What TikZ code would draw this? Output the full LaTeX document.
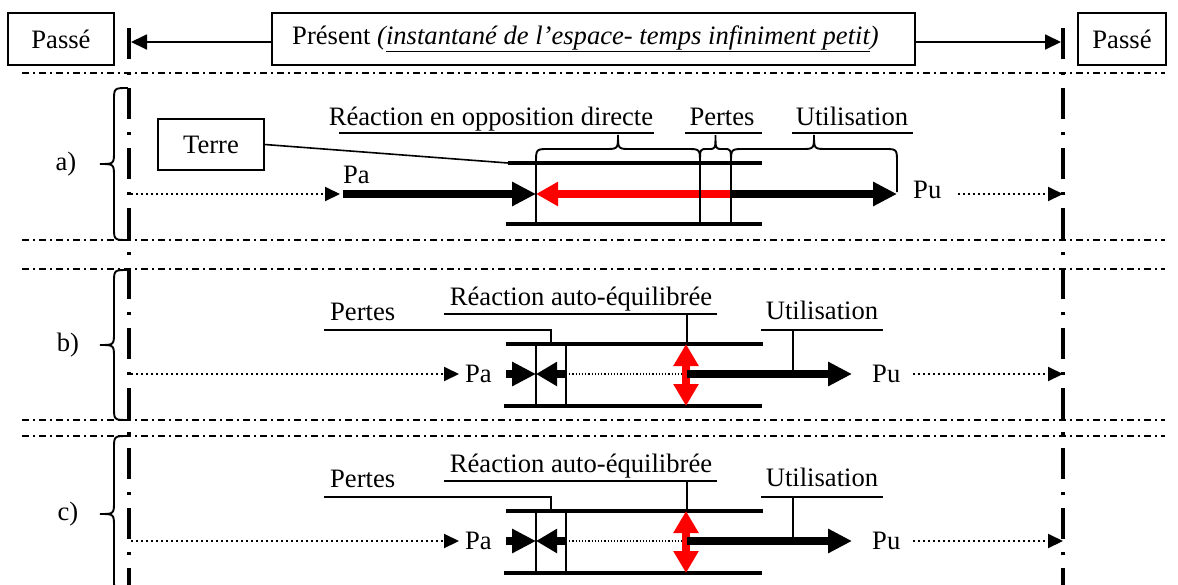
\documentclass[tikz,border=0pt]{standalone}
\usepackage{fontspec}
\setmainfont{Liberation Serif}
\usetikzlibrary{arrows.meta}
\begin{document}
\begin{tikzpicture}[x=1pt,y=-1pt,
  txt/.style={font=\fontsize{26.6}{32}\selectfont, inner sep=0pt},
  boxed/.style={draw, line width=1.6pt, inner sep=0pt, font=\fontsize{26.6}{32}\selectfont},
  hsep/.style={line width=1.6pt, dash pattern=on 7pt off 4pt on 2pt off 4pt},
  vsep/.style={line width=4pt, dash pattern=on 31pt off 13pt on 3pt off 13pt},
  rail/.style={line width=4pt},
  thinline/.style={line width=1.6pt},
  bracepath/.style={line width=1.9pt},
  toparrow/.style={line width=1.8pt, -{Triangle[length=16pt,width=15pt]}},
  dotarrow/.style={line width=2pt, dash pattern=on 2pt off 3pt, -{Triangle[length=15pt,width=14pt]}},
  fat/.style={line width=8pt, -{Triangle[length=24pt,width=23pt]}},
  fineDots/.style={line width=1.2pt, dash pattern=on 1.2pt off 2pt}]
\clip (0,0) rectangle (1178,584);
\fill[white] (0,0) rectangle (1178,584);

% ---------- top row ----------
\node[boxed, minimum width=106pt, minimum height=52pt] (passeL) at (61,39) {Passé};
\node[boxed, minimum width=643pt, minimum height=52pt] (present) at (593.5,39)
  {Présent \textit{(\underline{instantané de l’espace- temps infiniment petit})}\hspace*{16pt}};
\node[boxed, minimum width=88pt, minimum height=52pt] (passeR) at (1122,39) {Passé};

\draw[vsep] (129,28) -- (129,600);
\draw[vsep] (1063,28) -- (1063,600);

\coordinate (lb) at (131,42);
\coordinate (rb) at (1061,42);
\draw[toparrow] (present.west |- lb) -- (lb);
\draw[toparrow] (present.east |- rb) -- (rb);

% separators
\draw[hsep] (22,73) -- (1165,73);
\draw[hsep] (22,240) -- (1165,240);
\draw[hsep] (22,269) -- (1165,269);
\draw[hsep] (22,420) -- (1165,420);
\draw[hsep] (22,436) -- (1165,436);

% ---------- section a ----------
\draw[bracepath] (128,88) .. controls (114,88) .. (114,101) -- (114,151) .. controls (114,164) .. (100,164)
  .. controls (114,164) .. (114,177) -- (114,227) .. controls (114,240) .. (128,240);
\node[txt] (labA) at (66,164) {a)};

\node[boxed, minimum width=106pt, minimum height=51pt] (terre) at (211,144.5) {Terre};
\coordinate (railAtl) at (508,163);
\draw[rail] (railAtl) -- (762,163);
\draw[rail] (506,224) -- (762,224);
\draw[thinline] (terre.east) -- (railAtl);

\draw[dotarrow] (131,194) -- (340,194);
\node[txt, anchor=base west] (paA) at (343,183) {Pa};
\draw[fat] (343,194) -- (536,194);
\draw[fat, red, -{Triangle[length=22pt,width=23pt]}] (731,194) -- (536,194);
\draw[fat] (731,194) -- (897,194);
\node[txt, anchor=base west] (puA) at (913,198) {Pu};
\draw[dotarrow] (958,194) -- (1063,194);

\draw[thinline] (536,157) -- (536,224);
\draw[thinline] (700,163) -- (700,224);
\draw[thinline] (731,163) -- (731,224);

% braces above
\draw[bracepath] (536,163) .. controls (536,149) .. (549,149) -- (605,149) .. controls (618,149) .. (618,135)
  .. controls (618,149) .. (631,149) -- (687,149) .. controls (700,149) .. (700,163);
\draw[bracepath] (700,163) .. controls (700,149) .. (707,149) -- (708.5,149) .. controls (715.5,149) .. (715.5,135)
  .. controls (715.5,149) .. (722.5,149) -- (724,149) .. controls (731,149) .. (731,163);
\draw[bracepath] (731,163) .. controls (731,149) .. (744,149) -- (801,149) .. controls (814,149) .. (814,135)
  .. controls (814,149) .. (827,149) -- (884,149) .. controls (897,149) .. (897,163) -- (897,192);

\node[txt, anchor=base] (reacA) at (491,125) {Réaction en opposition directe};
\node[txt, anchor=base] (pertesA) at (722,125) {Pertes};
\node[txt, anchor=base] (utilA) at (852,125) {Utilisation};
\draw[thinline] (339,133) -- (654,133);
\draw[thinline] (685,133) -- (762,133);
\draw[thinline] (792,133) -- (913,133);

% ---------- sections b and c ----------
\foreach \dy/\s/\yA/\yB/\yC in {0/b/270/345/420, 167/c/436/514/592} {
  \draw[bracepath] (128,\yA) .. controls (114,\yA) .. (114,\yA+13) -- (114,\yB-13) .. controls (114,\yB) .. (100,\yB)
    .. controls (114,\yB) .. (114,\yB+13) -- (114,\yC-13) .. controls (114,\yC) .. (128,\yC);
  \node[txt] (lab\s) at (68,\yB) {\s)};
  \begin{scope}[yshift=-\dy pt]
    \draw[rail] (506,344) -- (763,344);
    \draw[rail] (504,406) -- (762,406);
    \draw[dotarrow] (131,374) -- (459,374);
    \node[txt, anchor=base west] (pa\s) at (465,382) {Pa};
    \draw[fat] (506,374) -- (536,374);
    \draw[fat, -{Triangle[length=21pt,width=23pt]}] (566,374) -- (536,374);
    \draw[fineDots] (566,374) -- (684,374);
    \draw[red, line width=8pt, {Triangle[length=22pt,width=24pt]}-{Triangle[length=22pt,width=24pt]}] (686,344) -- (686,406);
    \draw[fat] (687,374) -- (852,374);
    \node[txt, anchor=base west] (pu\s) at (872,382) {Pu};
    \draw[dotarrow] (913,374) -- (1063,374);
    \draw[thinline] (536,344) -- (536,406);
    \draw[thinline] (566,344) -- (566,406);
    \node[txt, anchor=base west] (pertes\s) at (330,320) {Pertes};
    \draw[thinline] (324,330) -- (551,330) -- (551,344);
    \node[txt, anchor=base] (reac\s) at (581,305) {Réaction auto-équilibrée};
    \draw[thinline] (444,314) -- (717,314);
    \draw[thinline] (687,314) -- (687,344);
    \node[txt, anchor=base] (util\s) at (822,319) {Utilisation};
    \draw[thinline] (761,330) -- (883,330);
    \draw[thinline] (793,330) -- (793,374);
  \end{scope}
}
\end{tikzpicture}
\end{document}
